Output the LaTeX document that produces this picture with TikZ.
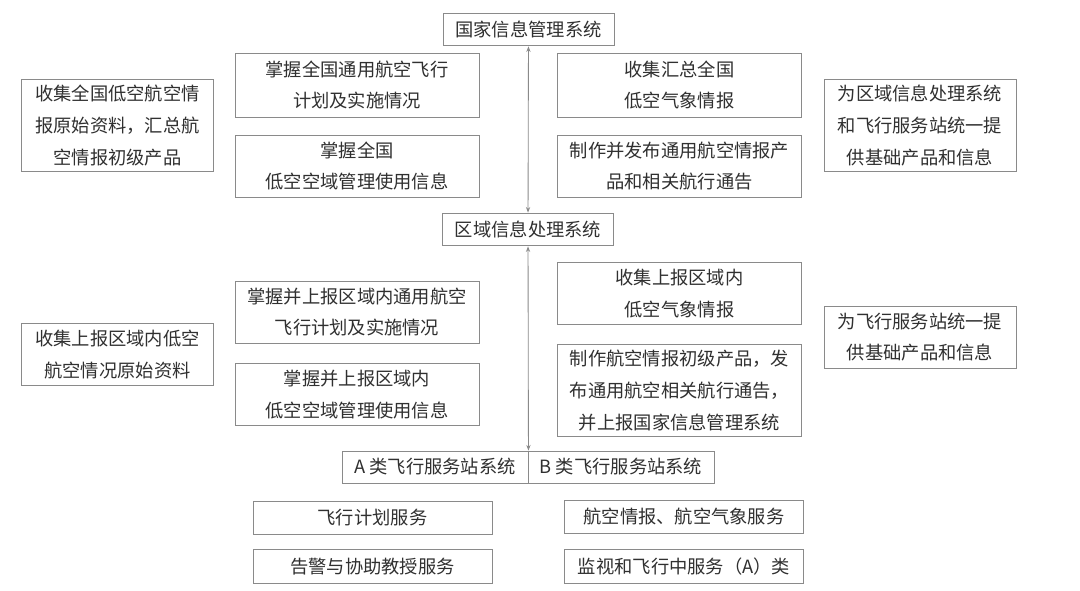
\documentclass[tikz,border=0pt]{standalone}
\usepackage{fontspec}
\setmainfont{Noto Sans CJK SC}
\usetikzlibrary{arrows.meta}
\definecolor{framegray}{RGB}{138,138,138}
\definecolor{inkgray}{RGB}{48,48,48}
\tikzset{
  >={Stealth[length=4pt,width=3pt]},
  infobox/.style={draw=framegray, line width=0.6pt, text=inkgray,
                  align=center, inner sep=0pt,
                  font=\fontsize{13}{22.5}\selectfont},
  sysbox/.style={infobox, minimum width=4.27cm, minimum height=0.82cm},
  stabox/.style={infobox, minimum width=4.65cm, minimum height=0.8cm},
  midbox/.style={infobox, minimum width=6.1cm},
  sidebox/.style={infobox, minimum width=4.8cm},
  svcbox/.style={infobox, minimum width=5.97cm, minimum height=0.83cm},
  link/.style={<->, draw=framegray, line width=0.6pt},
}
\begin{document}
\begin{tikzpicture}[x=0.025cm, y=-0.025cm]
  \useasboundingbox[fill=white] (0,0) rectangle (1080,591);

  % ---- system levels ----
  \node[sysbox] (national) at (528.5,29.5) {国家信息管理系统};
  \node[sysbox] (regional) at (528,229.5) {区域信息处理系统};
  \node[stabox] (stationA) at (435,467) {A 类飞行服务站系统};
  \node[stabox] (stationB) at (621,467) {B 类飞行服务站系统};

  % ---- national level ----
  \node[sidebox, minimum height=2.32cm] (natL) at (117.5,125.5)
    {收集全国低空航空情\\报原始资料，汇总航\\空情报初级产品};
  \node[midbox, minimum height=1.6cm] (natPlan) at (357,85)
    {掌握全国通用航空飞行\\计划及实施情况};
  \node[midbox, minimum height=1.55cm] (natSpace) at (357,166)
    {掌握全国\\低空空域管理使用信息};
  \node[midbox, minimum height=1.6cm] (natWx) at (679.5,85)
    {收集汇总全国\\低空气象情报};
  \node[midbox, minimum height=1.55cm] (natNotam) at (679.5,166)
    {制作并发布通用航空情报产\\品和相关航行通告};
  \node[sidebox, minimum height=2.32cm] (natR) at (920,125.5)
    {为区域信息处理系统\\和飞行服务站统一提\\供基础产品和信息};

  % ---- regional level ----
  \node[sidebox, minimum height=1.57cm] (regL) at (117.5,354.5)
    {收集上报区域内低空\\航空情况原始资料};
  \node[midbox, minimum height=1.55cm] (regPlan) at (357,312)
    {掌握并上报区域内通用航空\\飞行计划及实施情况};
  \node[midbox, minimum height=1.57cm] (regSpace) at (357,394.5)
    {掌握并上报区域内\\低空空域管理使用信息};
  \node[midbox, minimum height=1.57cm] (regWx) at (679.5,293.5)
    {收集上报区域内\\低空气象情报};
  \node[midbox, minimum height=2.32cm] (regNotam) at (679.5,390.5)
    {制作航空情报初级产品，发\\布通用航空相关航行通告，\\并上报国家信息管理系统};
  \node[sidebox, minimum height=1.55cm] (regR) at (920,337)
    {为飞行服务站统一提\\供基础产品和信息};

  % ---- station services ----
  \node[svcbox] (svcPlan) at (372.5,518) {飞行计划服务};
  \node[svcbox] (svcAlert) at (372.5,566.5) {告警与协助教授服务};
  \node[svcbox] (svcInfo) at (684,517) {航空情报、航空气象服务};
  \node[svcbox] (svcWatch) at (684,566.5) {监视和飞行中服务（A）类};

  % ---- links ----
  \draw[link] (national) -- (regional);
  \draw[link] (regional) -- (stationA.north east);
\end{tikzpicture}
\end{document}
